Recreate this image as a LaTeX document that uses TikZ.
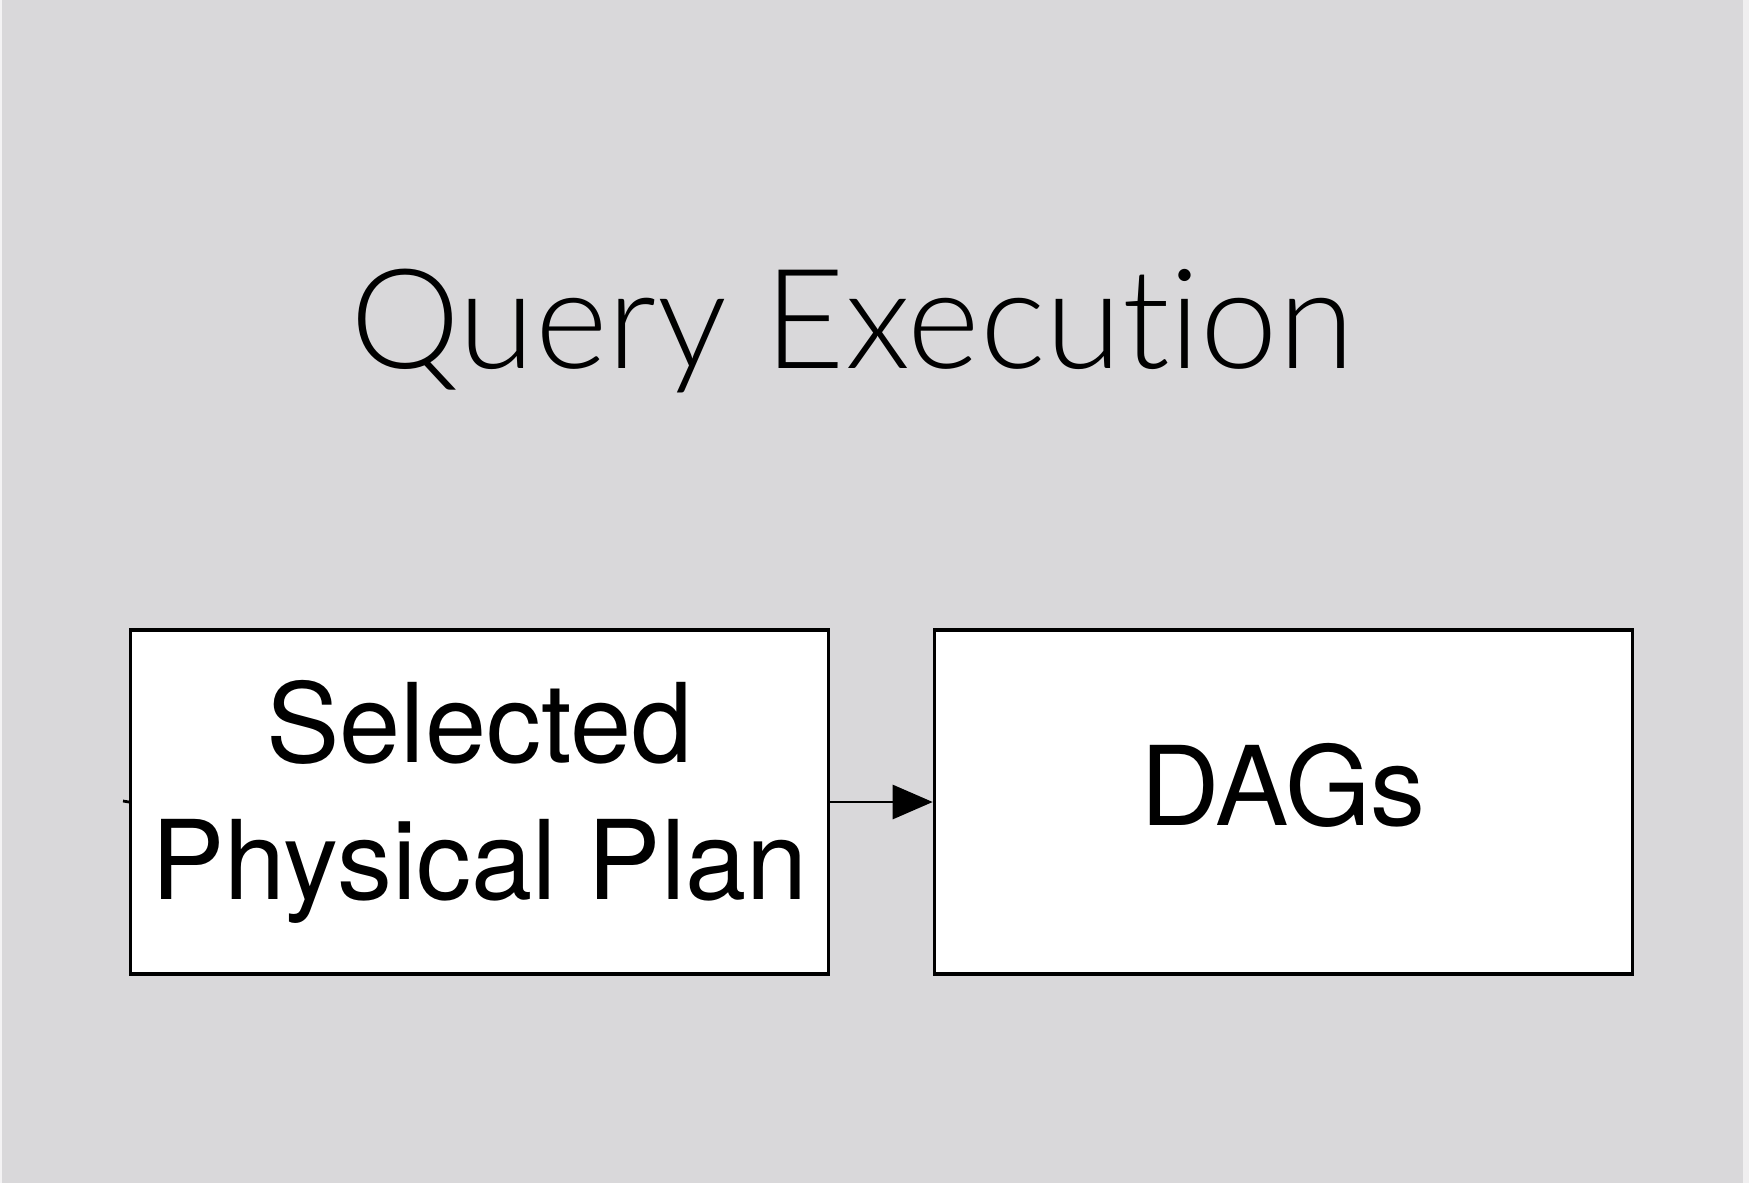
\documentclass[tikz,border=0pt]{standalone}
\usepackage{fontspec}
\setmainfont{TeX Gyre Heros}
\newfontfamily\titlefont{Lato Light}[Ligatures=NoCommon]
\usetikzlibrary{arrows.meta}
\begin{document}
\begin{tikzpicture}[x=1pt,y=-1pt,
  planbox/.style={draw=black,line width=3.2pt,fill=white,minimum width=698pt,minimum height=344pt,inner sep=0pt},
  boxtext/.style={font=\fontsize{110}{137}\selectfont,align=center},
  flow/.style={line width=2.8pt,-{Triangle[length=40pt,width=34pt]}}]
\definecolor{pagegrey}{HTML}{D9D8DA}
% canvas
\fill[pagegrey] (0,0) rectangle (1749,1183);
\fill[white!70!pagegrey] (0,0) rectangle (2,1183);
\fill[white!60!pagegrey] (1743,0) rectangle (1749,1183);
\useasboundingbox (0,0) rectangle (1749,1183);
% title
\node[font=\titlefont\fontsize{139}{160}\selectfont,anchor=base] (title) at (852,368) {Query Execution};
% boxes
\node[planbox] (plan) at (479.6,802) {};
\node[boxtext] (plantext) at (479.6,802) {Selected\\Physical Plan};
\node[planbox] (dags) at (1283.3,802) {};
\node[boxtext,anchor=base] (dagstext) at (1283.3,825) {DAGs};
% connectors
\coordinate (in) at (123,801);
\draw[line width=2.8pt] (in) -- (plan.west);
\draw[flow] (plan.east) -- (dags.west);
\end{tikzpicture}
\end{document}
